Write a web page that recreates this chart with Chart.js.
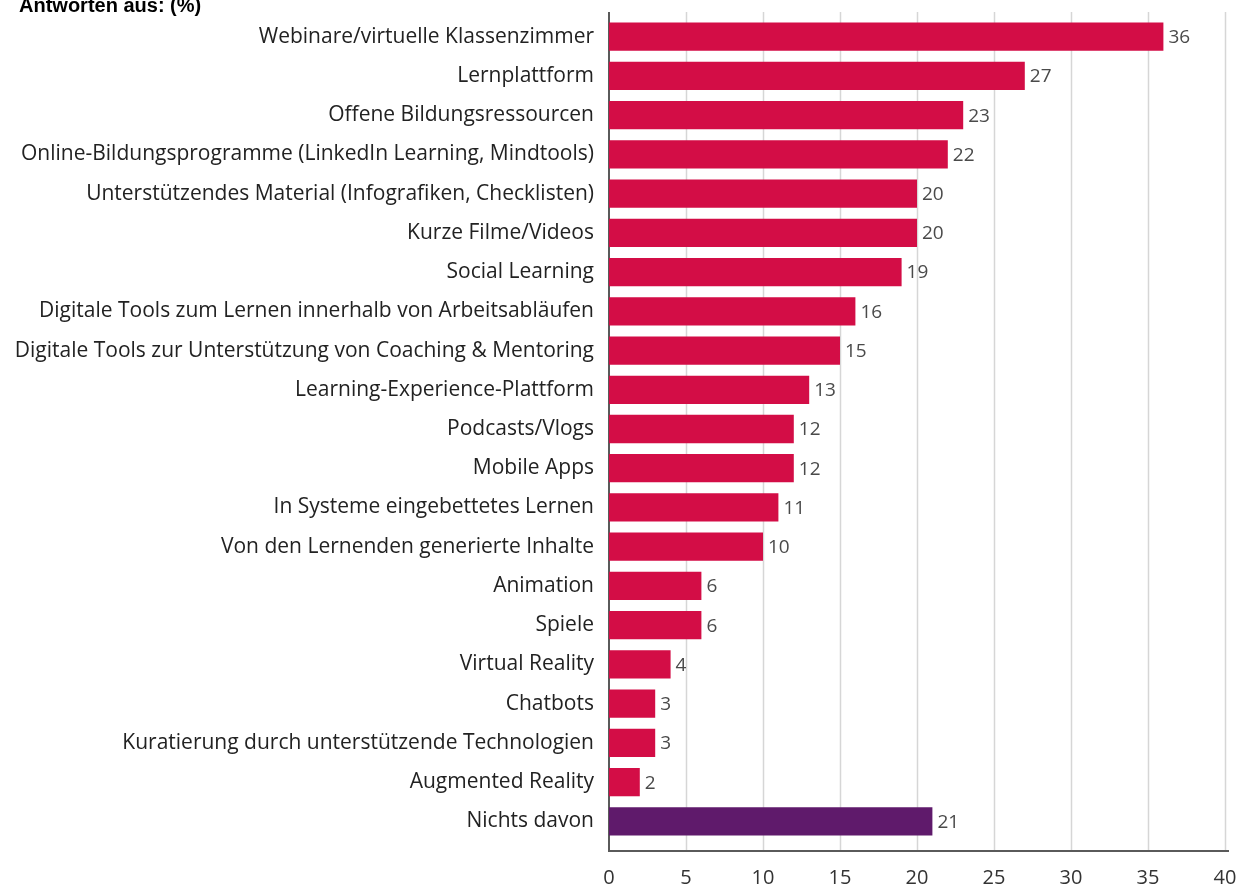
<!DOCTYPE html>
<html lang="de">
<head>
<meta charset="utf-8">
<title>Digitale Lernformate</title>
<script src="https://cdn.jsdelivr.net/npm/chart.js@4.4.1/dist/chart.umd.min.js"></script>
<style>
  html, body { margin: 0; padding: 0; background: #fff; overflow: hidden; }
  #wrap { position: relative; width: 1250px; height: 884px; }
</style>
</head>
<body>
<div id="wrap"><canvas id="myChart" width="1250" height="884"></canvas></div>
<script>
// Kategorien und Werte (%)
var kategorien = [
    "Webinare/virtuelle Klassenzimmer",
    "Lernplattform",
    "Offene Bildungsressourcen",
    "Online-Bildungsprogramme (LinkedIn Learning, Mindtools)",
    "Unterstützendes Material (Infografiken, Checklisten)",
    "Kurze Filme/Videos",
    "Social Learning",
    "Digitale Tools zum Lernen innerhalb von Arbeitsabläufen",
    "Digitale Tools zur Unterstützung von Coaching & Mentoring",
    "Learning-Experience-Plattform",
    "Podcasts/Vlogs",
    "Mobile Apps",
    "In Systeme eingebettetes Lernen",
    "Von den Lernenden generierte Inhalte",
    "Animation",
    "Spiele",
    "Virtual Reality",
    "Chatbots",
    "Kuratierung durch unterstützende Technologien",
    "Augmented Reality",
    "Nichts davon"
];
var werte = [36, 27, 23, 22, 20, 20, 19, 16, 15, 13, 12, 12, 11, 10, 6, 6, 4, 3, 3, 2, 21];
var xTicks = [0, 5, 10, 15, 20, 25, 30, 35, 40];

var rot = "#d30d46";
var lila = "#5f1a6b";
var farben = kategorien.map(function (k) { return k === "Nichts davon" ? lila : rot; });

var schrift = "'Open Sans', 'DejaVu Sans', sans-serif";

// Gitterlinien, Achsen, Werte und Überschrift
var zeichnen = {
    id: 'zeichnen',
    beforeDatasetsDraw: function (chart) {
        var c = chart.ctx, a = chart.chartArea, x = chart.scales.x;
        c.save();
        c.strokeStyle = "#d6d6d6";
        c.lineWidth = 1.5;
        xTicks.forEach(function (t) {
            if (t === 0) return;
            var px = Math.round(x.getPixelForValue(t)) + 0.5;
            c.beginPath();
            c.moveTo(px, a.top - 5);
            c.lineTo(px, a.bottom + 10);
            c.stroke();
        });
        c.strokeStyle = "#5a5a5a";
        c.lineWidth = 2;
        var x0 = x.getPixelForValue(0);
        c.beginPath();
        c.moveTo(x0, a.top - 5);
        c.lineTo(x0, a.bottom + 10);
        c.lineTo(x.getPixelForValue(40) + 4, a.bottom + 10);
        c.stroke();
        c.restore();
    },
    afterDatasetsDraw: function (chart) {
        var c = chart.ctx;
        var meta = chart.getDatasetMeta(0);
        c.save();
        c.fillStyle = "#4a4a4a";
        c.font = "19px " + schrift;
        c.textBaseline = "middle";
        c.textAlign = "left";
        meta.data.forEach(function (bar, i) {
            c.fillText(String(werte[i]), bar.x + 5, bar.y + 1);
        });
        c.fillStyle = "#000";
        c.font = "bold 20px 'Liberation Sans', 'DejaVu Sans', sans-serif";
        c.textBaseline = "alphabetic";
        c.fillText("Antworten aus: (%)", 19, 12);
        c.restore();
    }
};

var ctx = document.getElementById("myChart");

var myBarChart = new Chart(ctx, {
    type: 'bar',
    data: {
        labels: kategorien,
        datasets: [{
            data: werte,
            backgroundColor: farben,
            borderWidth: 0,
            barPercentage: 0.72,
            categoryPercentage: 1
        }]
    },
    options: {
        indexAxis: 'y',
        responsive: false,
        animation: false,
        layout: { padding: { top: 17, right: 25, left: 0, bottom: 0 } },
        plugins: {
            legend: { display: false },
            tooltip: { enabled: false }
        },
        scales: {
            x: {
                type: 'linear',
                min: 0,
                max: 40,
                grid: { display: false, drawTicks: false },
                border: { display: false },
                ticks: {
                    stepSize: 5,
                    padding: 25,
                    color: "#333",
                    font: { family: schrift, size: 20 }
                },
                afterFit: function (scale) {
                    scale.height = 43;
                    scale.paddingLeft = 0;
                    scale.paddingRight = 0;
                }
            },
            y: {
                grid: { display: false, drawTicks: false },
                border: { display: false },
                ticks: {
                    padding: 15,
                    color: "#222",
                    font: { family: schrift, size: 21 }
                },
                afterFit: function (scale) {
                    scale.width = 609;
                    scale.paddingTop = 0;
                    scale.paddingBottom = 0;
                }
            }
        }
    },
    plugins: [zeichnen]
});
</script>
</body>
</html>
